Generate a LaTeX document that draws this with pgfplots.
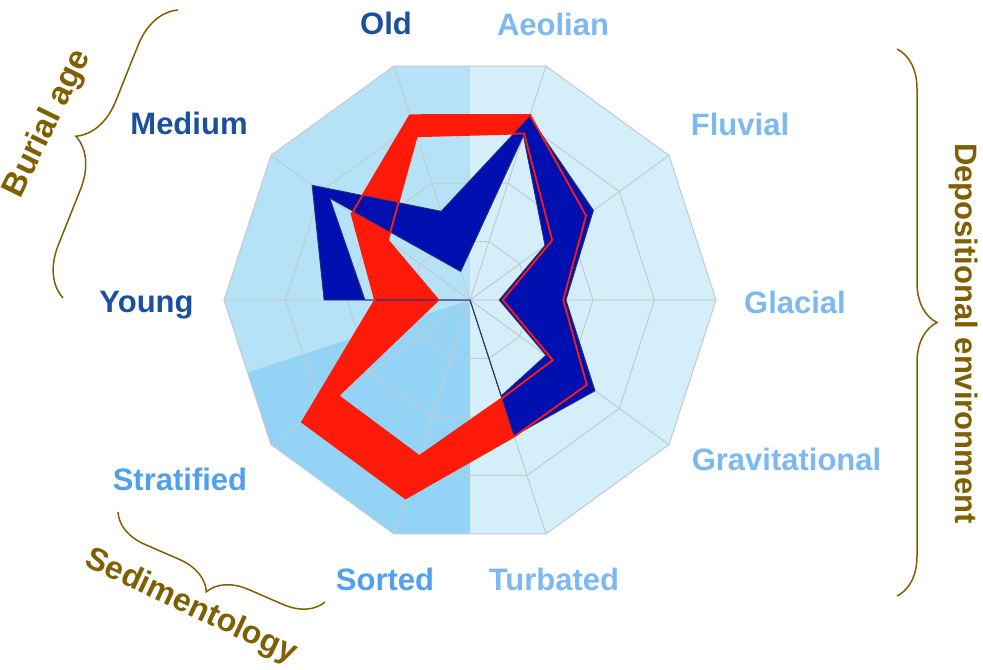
\documentclass[border=0pt]{standalone}
\usepackage{fontspec}
\setmainfont{Liberation Sans}
\usepackage{pgfplots}
\pgfplotsset{compat=1.18}
\usepgfplotslibrary{polar}
\usetikzlibrary{decorations.pathreplacing}
\definecolor{bgR}{RGB}{212,238,250}
\definecolor{bgUL}{RGB}{181,226,247}
\definecolor{bgLL}{RGB}{147,212,246}
\definecolor{gridc}{RGB}{196,202,208}
\definecolor{redb}{RGB}{255,26,10}
\definecolor{blueb}{RGB}{0,15,175}
\definecolor{navyl}{RGB}{40,50,130}
\definecolor{dkblue}{RGB}{25,80,160}
\definecolor{mdblue}{RGB}{80,160,235}
\definecolor{ltblue}{RGB}{125,185,240}
\definecolor{olive}{RGB}{127,96,0}
\begin{document}
\begin{tikzpicture}
\path[use as bounding box] (-235pt,-184.5pt) rectangle (256.5pt,150pt);
\begin{polaraxis}[at={(0,0)}, anchor=center, scale only axis, width=246pt, height=246pt,
  xmin=0, xmax=360, ymin=0, ymax=100, hide axis, clip=false]
% background sectors
\addplot[fill=bgR, draw=none] coordinates {(0,100) (36,100) (72,100) (108,100) (144,100) (180,100) (216,100) (252,100) (288,100) (324,100) (360,100)};
\addplot[fill=bgUL, draw=none] coordinates {(0,0) (90,95.11) (108,100) (144,100) (180,100) (198,95.11) (0,0)};
\addplot[fill=bgLL, draw=none] coordinates {(0,0) (198,95.11) (216,100) (252,100) (270,95.11) (0,0)};
% grid
\addplot[gridc, line width=0.5pt] coordinates {(0,25) (36,25) (72,25) (108,25) (144,25) (180,25) (216,25) (252,25) (288,25) (324,25) (360,25)};
\addplot[gridc, line width=0.5pt] coordinates {(0,50) (36,50) (72,50) (108,50) (144,50) (180,50) (216,50) (252,50) (288,50) (324,50) (360,50)};
\addplot[gridc, line width=0.5pt] coordinates {(0,75) (36,75) (72,75) (108,75) (144,75) (180,75) (216,75) (252,75) (288,75) (324,75) (360,75)};
\addplot[gridc, line width=0.5pt] coordinates {(0,100) (36,100) (72,100) (108,100) (144,100) (180,100) (216,100) (252,100) (288,100) (324,100) (360,100)};
\addplot[gridc, line width=0.5pt] coordinates {(0,0) (0,100) (0,0) (36,100) (0,0) (72,100) (0,0) (108,100) (0,0) (144,100) (0,0) (180,100) (0,0) (216,100) (0,0) (252,100) (0,0) (288,100) (0,0) (324,100)};
% red band (outer + inner, even odd)
\addplot[fill=redb, draw=none, even odd rule] coordinates {
 (108,79) (144,59.5) (180,38.6) (216,84.4) (252,84.8) (288,58.3) (324,58.7) (360,37.9) (36,58.3) (72,79.1) (108,79)
 (108,70) (144,41.2) (180,12.9) (216,66.2) (252,66.7) (288,42) (324,41.6) (360,13.3) (36,41.3) (72,71.2) (108,70)
 (108,79)};
% blue band
\addplot[fill=blueb, draw=none, even odd rule] coordinates {
 (108,37.9) (144,79.3) (180,59.3) (216,0) (252,0) (288,58) (324,62.8) (360,39) (36,62) (72,78.3) (108,37.9)
 (108,12.2) (144,70.5) (180,42.7) (216,0) (252,0) (288,41) (324,38.2) (360,11.9) (36,37.7) (72,70.3) (108,12.2)
 (108,37.9)};
\addplot[navyl, line width=0.45pt] coordinates {(108,37.9) (144,79.3) (180,59.3) (216,0) (252,0) (288,58) (324,62.8) (360,39) (36,62) (72,78.3) (108,37.9)};
\addplot[navyl, line width=0.45pt] coordinates {(108,12.2) (144,70.5) (180,42.7) (216,0) (252,0) (288,41) (324,38.2) (360,11.9) (36,37.7) (72,70.3) (108,12.2)};
% red outlines
\addplot[redb, line width=0.9pt, line join=miter] coordinates {(108,79) (144,59.5) (180,38.6) (216,84.4) (252,84.8) (288,58.3) (324,58.7) (360,37.9) (36,58.3) (72,79.1) (108,79)};
\addplot[redb, line width=0.9pt, line join=miter] coordinates {(108,70) (144,41.2) (180,12.9) (216,66.2) (252,66.7) (288,42) (324,41.6) (360,13.3) (36,41.3) (72,71.2) (108,70)};
\coordinate (C) at (axis cs:0,0);
\end{polaraxis}
\begin{scope}[shift={(C)}, font=\fontsize{15.5}{18}\selectfont\bfseries]
\node[anchor=base, text=dkblue] at (-42pt,132.5pt) {Old};
\node[anchor=base, text=ltblue] at (41.5pt,132pt) {Aeolian};
\node[anchor=base, text=dkblue] at (-140.5pt,82.5pt) {Medium};
\node[anchor=base, text=ltblue] at (135pt,82pt) {Fluvial};
\node[anchor=base, text=dkblue] at (-161.75pt,-6pt) {Young};
\node[anchor=base, text=ltblue] at (162.5pt,-6.5pt) {Glacial};
\node[anchor=base, text=mdblue] at (-145pt,-95pt) {Stratified};
\node[anchor=base, text=ltblue] at (158.25pt,-85pt) {Gravitational};
\node[anchor=base, text=mdblue] at (-42.5pt,-145pt) {Sorted};
\node[anchor=base, text=ltblue] at (42pt,-145pt) {Turbated};
\node[text=olive, rotate=64, font=\fontsize{16.5}{19}\selectfont\bfseries] at (-211pt,88pt) {Burial age};
\node[text=olive, rotate=-25, font=\fontsize{16}{19}\selectfont\bfseries] at (-139.5pt,-153.5pt) {Sedimentology};
\node[text=olive, rotate=-90] at (246.75pt,-16.75pt) {Depositional environment};
\draw[olive, line width=0.75pt, decorate, decoration={brace, amplitude=24pt}] (-203.5pt,1pt) -- (-146pt,145pt);
\draw[olive, line width=0.75pt, decorate, decoration={brace, amplitude=20pt}] (213.5pt,125.5pt) -- (213.5pt,-148pt);
\draw[olive, line width=0.75pt, decorate, decoration={brace, amplitude=19pt}] (-72.5pt,-151pt) -- (-176pt,-106pt);
\end{scope}
\end{tikzpicture}
\end{document}
